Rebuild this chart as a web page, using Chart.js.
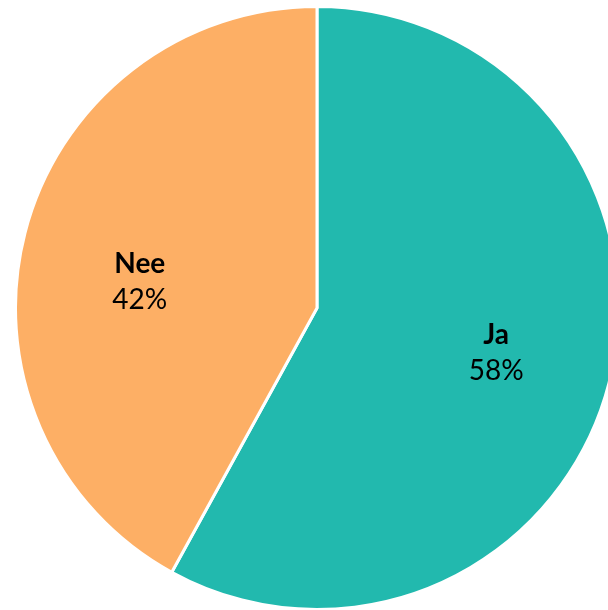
<!DOCTYPE html>
<html>
<head>
<meta charset="utf-8">
<script src="https://cdn.jsdelivr.net/npm/chart.js@4"></script>
<style>
  html, body { margin: 0; padding: 0; background: #fff; overflow: hidden; }
  #wrap { position: absolute; left: 14px; top: 5px; width: 606px; height: 606px; }
</style>
</head>
<body>
<div id="wrap"><canvas id="pie"></canvas></div>
<script>
const labels = ['Ja', 'Nee'];
const values = [58, 42];
const colors = ['#22B9AE', '#FDAF65'];

// labels inside each slice: bold name + percentage
const sliceLabels = {
  id: 'sliceLabels',
  afterDatasetsDraw(chart) {
    const ctx = chart.ctx;
    const meta = chart.getDatasetMeta(0);
    const total = values.reduce((a, b) => a + b, 0);
    const nudge = [[4, 0], [-2, 19]]; // small tweaks so labels sit like the original
    meta.data.forEach((arc, i) => {
      const mid = (arc.startAngle + arc.endAngle) / 2;
      const r = arc.outerRadius * 0.6;
      const x = arc.x + Math.cos(mid) * r + nudge[i][0];
      const y = arc.y + Math.sin(mid) * r + nudge[i][1];
      ctx.save();
      ctx.fillStyle = '#000';
      ctx.textAlign = 'center';
      ctx.textBaseline = 'middle';
      ctx.font = 'bold 28px Lato, "DejaVu Sans", sans-serif';
      ctx.fillText(labels[i], x, y - 18);
      ctx.font = '28px Lato, "DejaVu Sans", sans-serif';
      ctx.fillText(Math.round(values[i] / total * 100) + '%', x, y + 18);
      ctx.restore();
    });
  }
};

new Chart(document.getElementById('pie'), {
  type: 'pie',
  data: {
    labels,
    datasets: [{
      data: values,
      backgroundColor: colors,
      borderColor: '#fff',
      borderWidth: 3,
    }]
  },
  options: {
    responsive: true,
    maintainAspectRatio: false,
    animation: false,
    layout: { padding: 0 },
    plugins: { legend: { display: false }, tooltip: { enabled: false } }
  },
  plugins: [sliceLabels]
});
</script>
</body>
</html>
